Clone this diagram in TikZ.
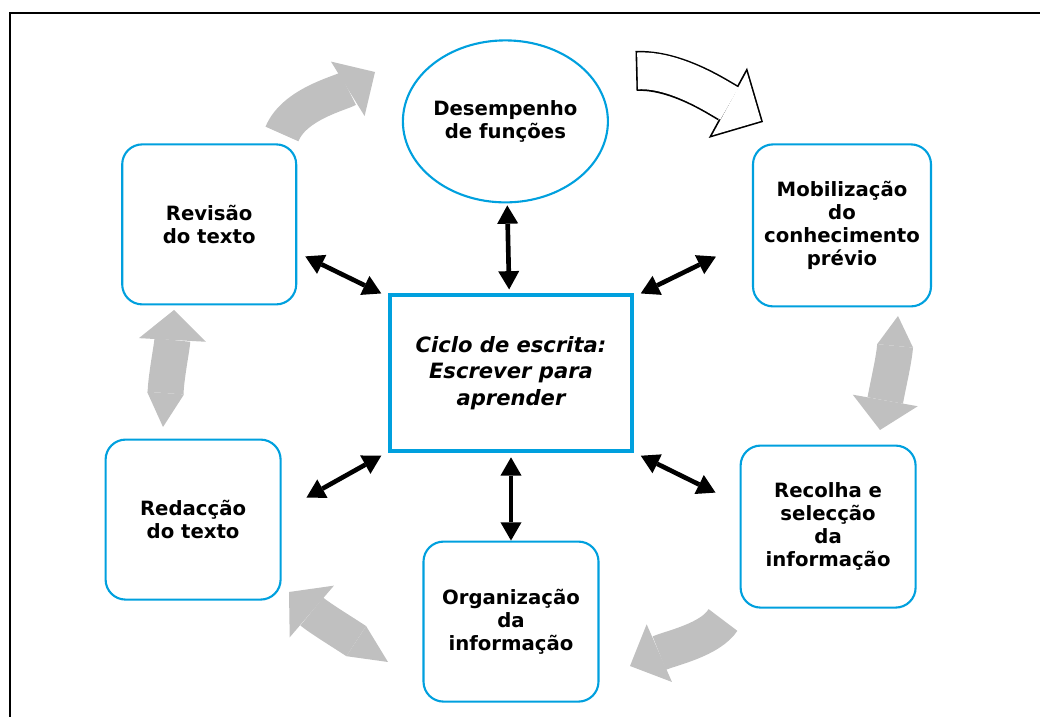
\documentclass[tikz,border=0pt]{standalone}
\usepackage{fontspec}
\setmainfont{DejaVu Sans}
\usetikzlibrary{shapes,positioning,arrows.meta,calc}
\definecolor{boxblue}{RGB}{0,160,222}
\definecolor{flowgrey}{RGB}{192,192,192}

\begin{document}
\begin{tikzpicture}

    \tikzstyle{box}=[draw=boxblue, line width=1.5pt, rectangle, rounded corners=0.5cm, minimum height=4cm, minimum width=4.375cm, align=center, font=\fontsize{14}{16.5}\selectfont\bfseries];
    \tikzstyle{oval}=[draw=boxblue, line width=1.5pt, ellipse, inner xsep=-0.1cm, inner ysep=0pt, minimum height=4.05cm, minimum width=5.125cm, align=center, font=\fontsize{14}{16.5}\selectfont\bfseries];
    \tikzstyle{centrebox}=[draw=boxblue, line width=2.2pt, rectangle, minimum height=3.9cm, minimum width=6.05cm, align=center, font=\fontsize{15}{19}\selectfont\bfseries\itshape];
    \tikzstyle{dbl}=[<->, line width=3.3pt];
    \tikzstyle{flow}=[draw=flowgrey, line width=0.9cm];

    \useasboundingbox (0,0) rectangle (26,17.925);
    \draw [line width=1.4pt] (0.25,0) -- (0.25,17.61) -- (26,17.61);

    \begin{scope}[>={Triangle[length=13pt,width=15pt,line width=0pt]}]
      \node (ciclo) at (12.775,8.6) [centrebox]{Ciclo de escrita:\\Escrever para\\aprender};

      \node (desempenho) [above=2.25cm of ciclo, xshift=-0.14cm, oval]{Desempenho\\de funções};
      \node (organizacao) [below=2.2cm of ciclo, box]{Organização\\da\\informação};
      \node (revisao) [above left=-0.3cm and 2.28cm of ciclo, box, minimum width=4.35cm]{Revisão\\do texto};
      \node (mobilizacao) [above right=-0.35cm and 2.96cm of ciclo, box, minimum width=4.45cm, minimum height=4.05cm]{Mobilização\\do\\conhecimento\\prévio};
      \node (redaccao) [below left=-0.35cm and 2.67cm of ciclo, box]{Redacção\\do texto};
      \node (recolha) [below right=-0.2cm and 2.65cm of ciclo, box, minimum height=4.05cm]{Recolha e\\selecção\\da\\informação};

      \draw [dbl, shorten >=0.1cm, shorten <=0.05cm] (desempenho) -- (ciclo);
      \draw [dbl, shorten <=0.12cm] (ciclo) -- (organizacao);
      \draw [dbl] ([xshift=0.2cm,yshift=-0.8cm]revisao.east) -- ([xshift=-0.18cm]ciclo.north west);
      \draw [dbl] ([xshift=-0.9cm,yshift=-0.78cm]mobilizacao.west) -- ([xshift=0.18cm]ciclo.north east);
      \draw [dbl] ([xshift=-0.18cm,yshift=-0.08cm]ciclo.south west) -- ([xshift=0.62cm,yshift=0.55cm]redaccao.east);
      \draw [dbl] ([xshift=0.18cm,yshift=-0.08cm]ciclo.south east) -- ([xshift=-0.6cm,yshift=0.85cm]recolha.west);

      % cycle arrows
      \coordinate (revTail) at (7.05,14.575);
      \coordinate (desHead) at (9.375,16.125);
      \coordinate (desTail) at (15.9,16.15);
      \coordinate (mobHead) at (19.075,14.875);
      \coordinate (mobTail) at (22.45,10.025);
      \coordinate (mobBend) at (22.375,9.25);
      \coordinate (recHead) at (22.0,7.175);
      \coordinate (recTail) at (18.075,2.425);
      \coordinate (orgHead) at (15.75,1.275);
      \coordinate (orgTail) at (9.7,1.375);
      \coordinate (orgBend) at (8.9,1.9);
      \coordinate (redHead) at (7.225,3.125);
      \coordinate (redTail) at (4.075,7.25);
      \coordinate (redBend) at (4.14,8.125);
      \coordinate (revHead) at (4.35,10.175);

      \draw [flow, -{Triangle[length=0.8cm,width=1.6cm,line width=0pt]}] (revTail) .. controls (7.35,15.325) and (8.525,15.6) .. (desHead);

      \draw [line width=1.0cm, -{Triangle[length=1.0cm,width=2.0cm,line width=0pt]}] (desTail) .. controls (16.9,16.2) and (17.975,15.475) .. (mobHead);
      \draw [white, line width=0.92cm, shorten <=0.04cm, shorten >=0.057cm, -{Triangle[length=0.9cm,width=1.8cm,line width=0pt]}] (desTail) .. controls (16.9,16.2) and (17.975,15.475) .. (mobHead);

      \draw [flow, {Triangle[length=0.75cm,width=0.9cm,line width=0pt]}-{Triangle[length=0.75cm,width=1.65cm,line width=0pt]}] (mobTail) -- (mobBend) .. controls (22.34,8.875) and (22.2,8.3) .. (recHead);
      \draw [flow, -{Triangle[length=0.8cm,width=1.575cm,line width=0pt]}] (recTail) .. controls (17.75,1.925) and (16.775,1.725) .. (orgHead);
      \draw [flow, {Triangle[length=0.95cm,width=0.9cm,line width=0pt]}-{Triangle[length=0.75cm,width=1.7cm,line width=0pt]}] (orgTail) -- (orgBend) .. controls (8.6,2.1) and (7.985,2.475) .. (redHead);
      \draw [flow, {Triangle[length=0.85cm,width=0.925cm,line width=0pt]}-{Triangle[length=0.75cm,width=1.675cm,line width=0pt]}] (redTail) -- (redBend) .. controls (4.16,8.55) and (4.3,9.25) .. (revHead);

    \end{scope}
   \end{tikzpicture}
\end{document}
